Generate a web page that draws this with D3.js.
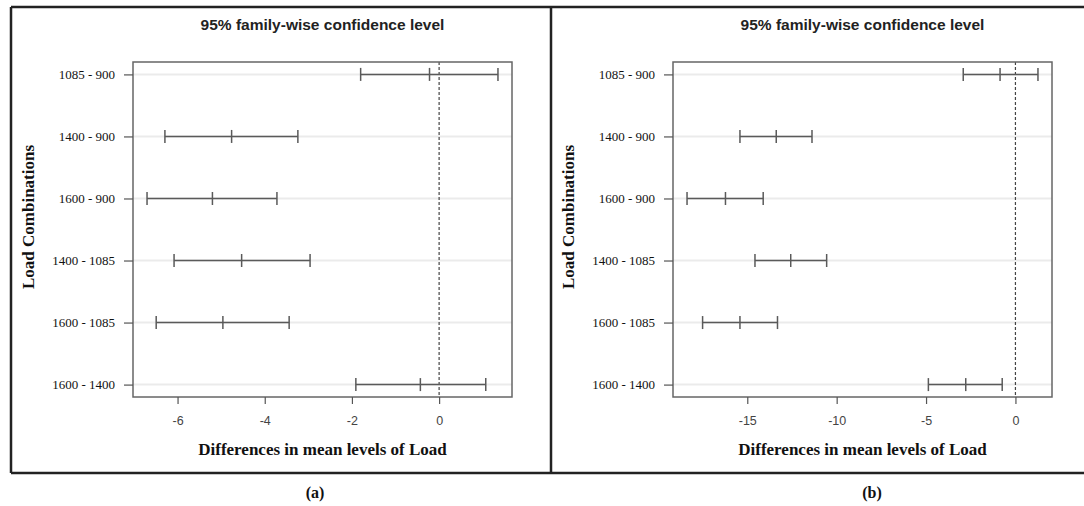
<!DOCTYPE html>
<html>
  <head>
    <meta charset="utf-8">
    <title>Tukey HSD intervals</title>
    <script src="https://d3js.org/d3.v7.min.js"></script>
    <style>
      body { margin: 0; background: #fff; }
      .ylab text { font-family: "Liberation Serif", serif; font-size: 13px; fill: #111; }
      .xlab text { font-family: "Liberation Sans", Arial, sans-serif; font-size: 12.5px; fill: #444; }
      .title { font-family: "Liberation Sans", Arial, sans-serif; font-size: 15.5px; font-weight: bold; fill: #222; }
      .axis-title { font-family: "Liberation Serif", serif; font-size: 17px; font-weight: bold; fill: #111; }
      .tag { font-family: "Liberation Serif", serif; font-size: 16px; font-weight: bold; fill: #111; }
    </style>
  </head>
  <body>
    <svg width="1084" height="506"></svg>

    <script>
      const comparisons = ["1085 - 900", "1400 - 900", "1600 - 900", "1400 - 1085", "1600 - 1085", "1600 - 1400"];

      // panel (a)
      const diffA = [-0.22, -4.76, -5.20, -4.53, -4.96, -0.43];
      const lwrA  = [-1.80, -6.29, -6.70, -6.08, -6.49, -1.91];
      const uprA  = [ 1.35, -3.24, -3.72, -2.96, -3.44,  1.07];
      const ticksA = [-6, -4, -2, 0];

      // panel (b)
      const diffB = [ -0.86, -13.38, -16.22, -12.57, -15.41, -2.78];
      const lwrB  = [ -2.92, -15.41, -18.37, -14.57, -17.50, -4.87];
      const uprB  = [  1.26, -11.38, -14.11, -10.56, -13.31, -0.74];
      const ticksB = [-15, -10, -5, 0];

      const box = { left: 133, right: 512, top: 62, bottom: 397 };
      const lineCol = "#5a5a5a";

      function drawPanel(svg, dx, diff, lwr, upr, ticks, tag, tagX) {
        const g = svg.append("g").attr("transform", `translate(${dx},0)`);

        const lo = d3.min(lwr), hi = d3.max(upr);
        const pad = 0.04 * (hi - lo);
        const x = d3.scaleLinear().domain([lo - pad, hi + pad]).range([box.left, box.right]);
        const y = d3.scalePoint().domain(comparisons).range([box.top, box.bottom]).padding(0.2);

        const rows = comparisons.map((c, i) => ({ c, diff: diff[i], lwr: lwr[i], upr: upr[i] }));

        // light grid line per comparison
        g.selectAll(".grid").data(comparisons).join("line")
            .attr("class", "grid")
            .attr("x1", box.left).attr("x2", box.right)
            .attr("y1", d => y(d)).attr("y2", d => y(d))
            .attr("stroke", "#ebebeb").attr("stroke-width", 2);

        // zero reference
        g.append("line")
            .attr("x1", x(0)).attr("x2", x(0))
            .attr("y1", box.top).attr("y2", box.bottom)
            .attr("stroke", "#444").attr("stroke-width", 1.2)
            .attr("stroke-dasharray", "3,2");

        const iv = g.selectAll(".iv").data(rows).join("g").attr("class", "iv");
        iv.append("line")
            .attr("x1", d => x(d.lwr)).attr("x2", d => x(d.upr))
            .attr("y1", d => y(d.c)).attr("y2", d => y(d.c))
            .attr("stroke", lineCol).attr("stroke-width", 1.5);
        iv.selectAll(".cap").data(d => [d.lwr, d.diff, d.upr].map(v => ({ v, c: d.c }))).join("line")
            .attr("class", "cap")
            .attr("x1", d => x(d.v)).attr("x2", d => x(d.v))
            .attr("y1", d => y(d.c) - 6.5).attr("y2", d => y(d.c) + 6.5)
            .attr("stroke", lineCol).attr("stroke-width", 1.5);

        g.append("rect")
            .attr("x", box.left).attr("y", box.top)
            .attr("width", box.right - box.left).attr("height", box.bottom - box.top)
            .attr("fill", "none").attr("stroke", "#666").attr("stroke-width", 1.5);

        const ya = g.append("g").attr("class", "ylab")
            .attr("transform", `translate(${box.left},0)`)
            .call(d3.axisLeft(y).tickSize(9).tickPadding(9));
        ya.select(".domain").remove();
        ya.selectAll(".tick line").attr("stroke", "#555").attr("stroke-width", 1.2);

        const xa = g.append("g").attr("class", "xlab")
            .attr("transform", `translate(0,${box.bottom})`)
            .call(d3.axisBottom(x).tickValues(ticks).tickSize(7).tickPadding(12).tickFormat(d => String(d)));
        xa.select(".domain").remove();
        xa.selectAll(".tick line").attr("stroke", "#555").attr("stroke-width", 1.2);

        const cx = (box.left + box.right) / 2;
        g.append("text").attr("class", "title")
            .attr("x", cx).attr("y", 30).attr("text-anchor", "middle")
            .text("95% family-wise confidence level");
        g.append("text").attr("class", "axis-title")
            .attr("x", cx).attr("y", 455).attr("text-anchor", "middle")
            .text("Differences in mean levels of Load");
        g.append("text").attr("class", "axis-title")
            .attr("transform", "translate(34,217) rotate(-90)").attr("text-anchor", "middle")
            .text("Load Combinations");

        svg.append("text").attr("class", "tag")
            .attr("x", tagX).attr("y", 498).attr("text-anchor", "middle")
            .text(tag);
      }

      function main() {
        const svg = d3.select("svg");
        svg.append("rect").attr("width", 1084).attr("height", 506).attr("fill", "#fff");

        drawPanel(svg, 0, diffA, lwrA, uprA, ticksA, "(a)", 315);
        drawPanel(svg, 540, diffB, lwrB, uprB, ticksB, "(b)", 872);

        // outer frame
        const frame = svg.append("g").attr("stroke", "#222").attr("stroke-width", 2.5);
        frame.append("line").attr("x1", 11).attr("x2", 1084).attr("y1", 7).attr("y2", 7);
        frame.append("line").attr("x1", 11).attr("x2", 1084).attr("y1", 473).attr("y2", 473);
        frame.append("line").attr("x1", 11).attr("x2", 11).attr("y1", 7).attr("y2", 473);
        frame.append("line").attr("x1", 551).attr("x2", 551).attr("y1", 7).attr("y2", 473);
      }
      main();
    </script>
  </body>
</html>
